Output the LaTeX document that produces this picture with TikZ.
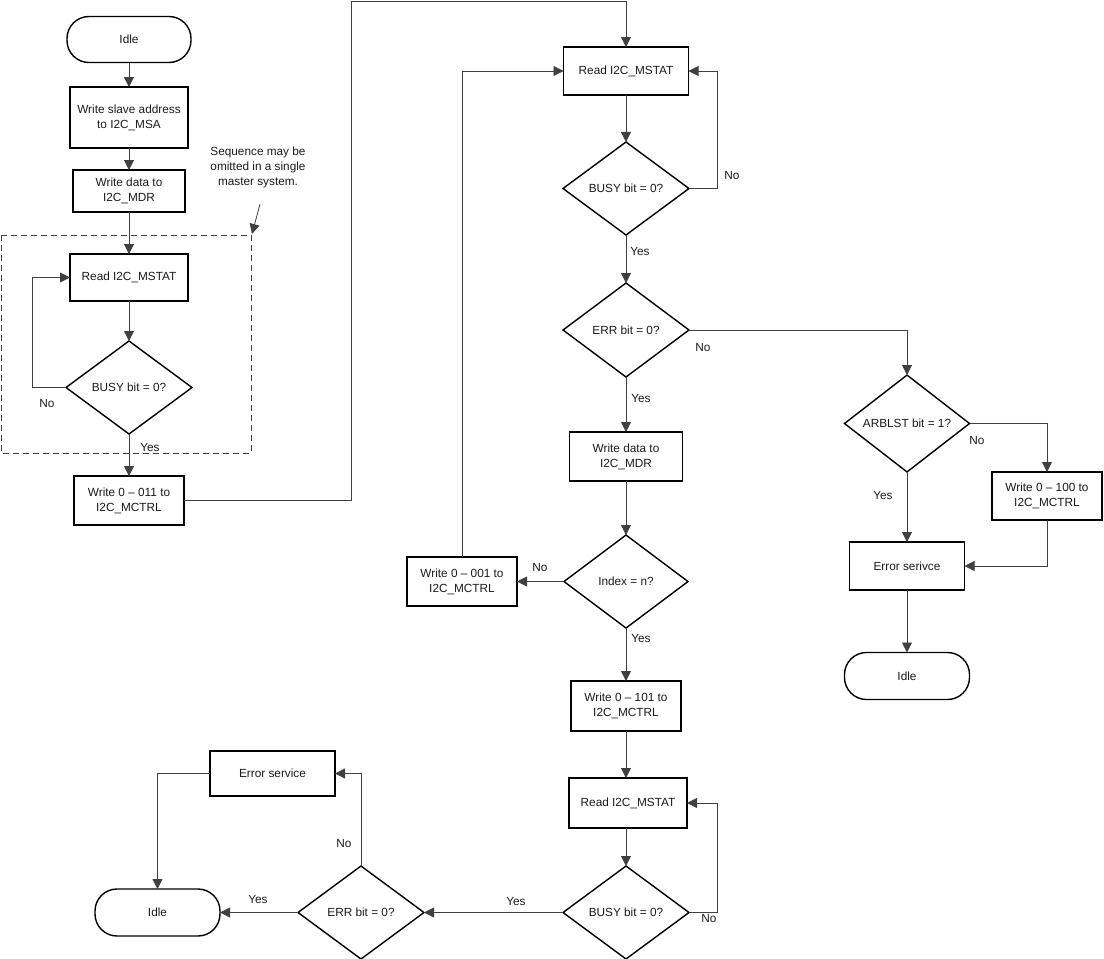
\documentclass[tikz,border=0pt]{standalone}
\usepackage{fontspec}
\setmainfont{Liberation Sans}
\usetikzlibrary{shapes.geometric,arrows.meta}
\definecolor{ln}{HTML}{404040}
\definecolor{tx}{HTML}{1A1A1A}
\begin{document}
\begin{tikzpicture}[x=1pt,y=-1pt,
  every node/.style={font=\fontsize{11.8}{15}\selectfont,text=tx},
  proc/.style={draw=black,line width=1.4pt,align=center,inner sep=0pt,outer sep=0pt},
  term/.style={draw=black,line width=1.4pt,align=center,inner sep=0pt,outer sep=0pt,rounded corners=22pt},
  dec/.style={diamond,draw=black,line width=1.4pt,align=center,inner sep=0pt,outer sep=0pt},
  lab/.style={inner sep=0pt},
  conn/.style={draw=ln,line width=0.8pt,-{Triangle[length=10pt,width=10pt]},fill=none}
]
\useasboundingbox (0,0) rectangle (1104,959);

% left column
\node[term,minimum width=124pt,minimum height=46pt] (idleA) at (129,39.5) {Idle};
\node[proc,minimum width=118pt,minimum height=61pt] (msa) at (129,117.5) {Write slave address\\to I2C\_MSA};
\node[proc,minimum width=112pt,minimum height=42pt] (mdrA) at (129,191) {Write data to\\I2C\_MDR};
\node[proc,minimum width=118pt,minimum height=47pt] (mstatA) at (129,277.5) {Read I2C\_MSTAT};
\node[dec,minimum width=126pt,minimum height=93pt] (busyA) at (129,387.5) {BUSY bit = 0?};
\node[proc,minimum width=110pt,minimum height=49pt] (w011) at (129,500.5) {Write 0 -- 011 to\\I2C\_MCTRL};

\draw[ln,line width=0.8pt,dash pattern=on 6pt off 4pt] (1,235) rectangle (251,453);
\node[lab,align=center] (seq) at (258,167) {Sequence may be\\omitted in a single\\master system.};
\coordinate (seqa) at (260,204);
\coordinate (seqb) at (252,234);
\draw[conn] (seqa) -- (seqb);

\draw[conn] (idleA) -- (msa);
\draw[conn] (msa) -- (mdrA);
\draw[conn] (mdrA) -- (mstatA);
\draw[conn] (mstatA) -- (busyA);
\draw[conn] (busyA) -- (w011);
\coordinate (lA) at (32,387.5);
\draw[conn] (busyA.west) -- (lA) |- (mstatA.west);
\node[lab] (noA) at (47,403) {No};
\node[lab] (yesA) at (150,447) {Yes};

% middle column
\node[proc,minimum width=125pt,minimum height=48pt] (mstatB) at (626,71) {Read I2C\_MSTAT};
\node[dec,minimum width=126pt,minimum height=93pt] (busyB) at (626,188.5) {BUSY bit = 0?};
\node[dec,minimum width=126pt,minimum height=94pt] (errB) at (626,330) {ERR bit = 0?};
\node[proc,minimum width=113pt,minimum height=49pt] (mdrB) at (626,456.5) {Write data to\\I2C\_MDR};
\node[dec,minimum width=124pt,minimum height=93pt] (index) at (626,581.5) {Index = n?};
\node[proc,minimum width=110pt,minimum height=49pt] (w001) at (462,581.5) {Write 0 -- 001 to\\I2C\_MCTRL};
\node[proc,minimum width=110pt,minimum height=50pt] (w101) at (626,706) {Write 0 -- 101 to\\I2C\_MCTRL};
\node[proc,minimum width=118pt,minimum height=50pt] (mstatC) at (628,803) {Read I2C\_MSTAT};
\node[dec,minimum width=126pt,minimum height=93pt] (busyC) at (626,912.5) {BUSY bit = 0?};
\node[dec,minimum width=126pt,minimum height=93pt] (errC) at (361,912.5) {ERR bit = 0?};
\node[term,minimum width=125pt,minimum height=47pt] (idleC) at (157.5,912.5) {Idle};
\node[proc,minimum width=125pt,minimum height=45pt] (esvcC) at (272.5,773.5) {Error service};

% right column
\node[dec,minimum width=125pt,minimum height=93pt] (arb) at (907,423.5) {ARBLST bit = 1?};
\node[proc,minimum width=110pt,minimum height=48pt] (w100) at (1047,496) {Write 0 -- 100 to\\I2C\_MCTRL};
\node[proc,minimum width=115pt,minimum height=48pt] (esvcR) at (907,566) {Error serivce};
\node[term,minimum width=125pt,minimum height=47pt] (idleR) at (907,676) {Idle};

% connectors
\coordinate (t1) at (351,500.5);
\coordinate (t2) at (351,1);
\coordinate (t3) at (626,1);
\draw[conn] (w011.east) -- (t1) -- (t2) -- (t3) -- (mstatB.north);
\draw[conn] (mstatB) -- (busyB);
\coordinate (lB) at (717,188.5);
\draw[conn] (busyB.east) -- (lB) |- (mstatB.east);
\draw[conn] (busyB) -- (errB);
\draw[conn] (errB.east) -| (arb.north);
\draw[conn] (errB) -- (mdrB);
\draw[conn] (mdrB) -- (index);
\draw[conn] (index.west) -- (w001.east);
\draw[conn] (w001.north) |- (mstatB.west);
\draw[conn] (index) -- (w101);
\draw[conn] (w101.south) -- (w101.south |- mstatC.north);
\coordinate (lC) at (717,912.5);
\draw[conn] (mstatC.south -| w101.south) -- (busyC.north);
\draw[conn] (busyC.east) -- (lC) |- (mstatC.east);
\draw[conn] (busyC.west) -- (errC.east);
\draw[conn] (errC.west) -- (idleC.east);
\draw[conn] (errC.north) |- (esvcC.east);
\draw[conn] (esvcC.west) -| (idleC.north);
\draw[conn] (arb.east) -| (w100.north);
\draw[conn] (arb.south) -- (esvcR.north);
\draw[conn] (w100.south) |- (esvcR.east);
\draw[conn] (esvcR) -- (idleR);

% labels
\node[lab] (noB) at (732,175) {No};
\node[lab] (yesB) at (640,251) {Yes};
\node[lab] (noE) at (703,347) {No};
\node[lab] (yesE) at (641,398) {Yes};
\node[lab] (noR) at (977,440) {No};
\node[lab] (yesR) at (883,495) {Yes};
\node[lab] (noI) at (540,567) {No};
\node[lab] (yesI) at (641,638) {Yes};
\node[lab] (noC) at (709,918) {No};
\node[lab] (yesC) at (516,901) {Yes};
\node[lab] (yesEC) at (258,899) {Yes};
\node[lab] (noEC) at (344,843) {No};
\end{tikzpicture}
\end{document}
